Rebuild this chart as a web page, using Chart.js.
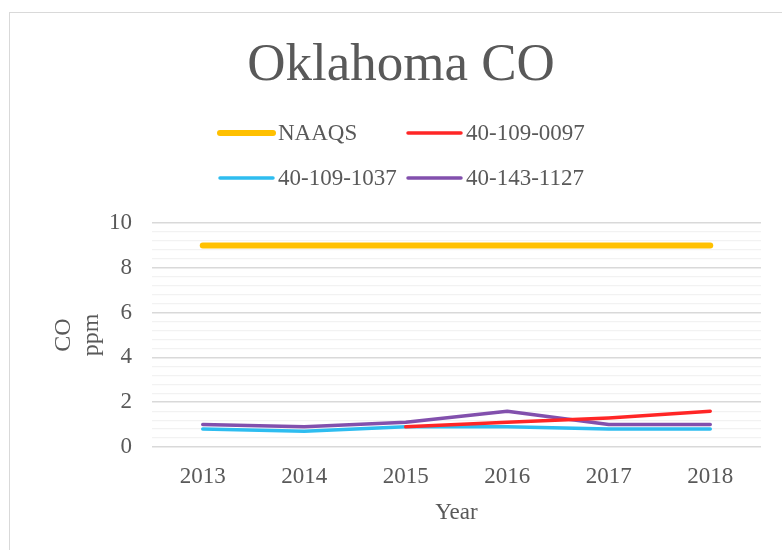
<!DOCTYPE html>
<html>
<head>
<meta charset="utf-8">
<script src="https://cdn.jsdelivr.net/npm/chart.js@4"></script>
<style>
  html, body { margin: 0; padding: 0; background: #fff; overflow: hidden; }
  .frame { position: absolute; left: 9px; top: 12px; width: 800px; height: 560px; border: 1.5px solid #d9d9d9; }
  .chart-box { position: absolute; left: 0; top: 0; width: 782px; height: 550px; }
</style>
</head>
<body>
<div class="frame"></div>
<div class="chart-box"><canvas id="myChart" width="782" height="550"></canvas></div>
<script>
// data
const years = ['2013', '2014', '2015', '2016', '2017', '2018'];
const naaqs = [9, 9, 9, 9, 9, 9];
const site0097 = [null, null, 0.9, 1.1, 1.3, 1.6];
const site1037 = [0.8, 0.7, 0.9, 0.9, 0.8, 0.8];
const site1127 = [1.0, 0.9, 1.1, 1.6, 1.0, 1.0];
const yTicks = [0, 2, 4, 6, 8, 10];

const serif = "'Liberation Serif', 'Times New Roman', serif";
const grey = '#595959';

// legend laid out as a 2x2 grid, like the original
const legendGrid = {
  id: 'legendGrid',
  afterDraw(chart) {
    const ctx = chart.ctx;
    const cols = [220, 408];
    const rows = [133, 178];
    ctx.save();
    ctx.font = '23px ' + serif;
    ctx.fillStyle = grey;
    ctx.textBaseline = 'middle';
    chart.data.datasets.forEach((ds, i) => {
      const x = cols[i % 2];
      const y = rows[Math.floor(i / 2)];
      ctx.strokeStyle = ds.borderColor;
      ctx.lineWidth = ds.borderWidth;
      ctx.lineCap = 'round';
      ctx.beginPath();
      ctx.moveTo(x, y);
      ctx.lineTo(x + 53, y);
      ctx.stroke();
      ctx.fillText(ds.label, x + 58, y + 1);
    });
    // title
    ctx.font = '53px ' + serif;
    ctx.textAlign = 'center';
    ctx.fillText('Oklahoma CO', 401, 66);
    ctx.restore();
  }
};

const ctx = document.getElementById('myChart').getContext('2d');
new Chart(ctx, {
  type: 'line',
  data: {
    labels: years,
    datasets: [
      { label: 'NAAQS', data: naaqs, borderColor: '#ffc000', borderWidth: 6 },
      { label: '40-109-0097', data: site0097, borderColor: '#ff2626', borderWidth: 3.5 },
      { label: '40-109-1037', data: site1037, borderColor: '#2ebdf0', borderWidth: 3.5 },
      { label: '40-143-1127', data: site1127, borderColor: '#8250ad', borderWidth: 3.5 },
    ],
  },
  options: {
    responsive: false,
    animation: false,
    devicePixelRatio: 1,
    layout: { padding: { top: 223, right: 21, bottom: 0, left: 0 } },
    elements: { point: { radius: 0 }, line: { tension: 0, borderCapStyle: 'round', borderJoinStyle: 'round' } },
    plugins: { legend: { display: false }, title: { display: false }, tooltip: { enabled: false } },
    scales: {
      x: {
        offset: true,
        grid: { display: false, drawTicks: false },
        border: { display: false },
        ticks: { color: grey, font: { family: serif, size: 23 }, padding: 16 },
        title: { display: true, text: 'Year', color: grey, font: { family: serif, size: 23 }, padding: { top: 8, bottom: 23 } },
        afterFit(scale) { scale.height = 103; },
      },
      y: {
        min: 0,
        max: 10,
        afterBuildTicks(scale) {
          const t = [];
          for (let v = 0; v <= 50; v += 2) t.push({ value: v / 5 });
          scale.ticks = t;
        },
        grid: {
          drawTicks: false,
          color: c => (yTicks.includes(Math.round(c.tick.value * 10) / 10) ? '#d9d9d9' : '#f2f2f2'),
          lineWidth: c => (yTicks.includes(Math.round(c.tick.value * 10) / 10) ? 1.5 : 1.2),
        },
        border: { display: false },
        ticks: {
          color: grey,
          font: { family: serif, size: 23 },
          padding: 20,
          autoSkip: false,
          callback: v => (yTicks.includes(Math.round(v * 10) / 10) ? Math.round(v) : ''),
        },
        title: { display: true, text: ['CO', 'ppm'], color: grey, font: { family: serif, size: 24 }, padding: { top: 49, bottom: 0 } },
        afterFit(scale) { scale.width = 152; },
      },
    },
  },
  plugins: [legendGrid],
});
</script>
</body>
</html>
